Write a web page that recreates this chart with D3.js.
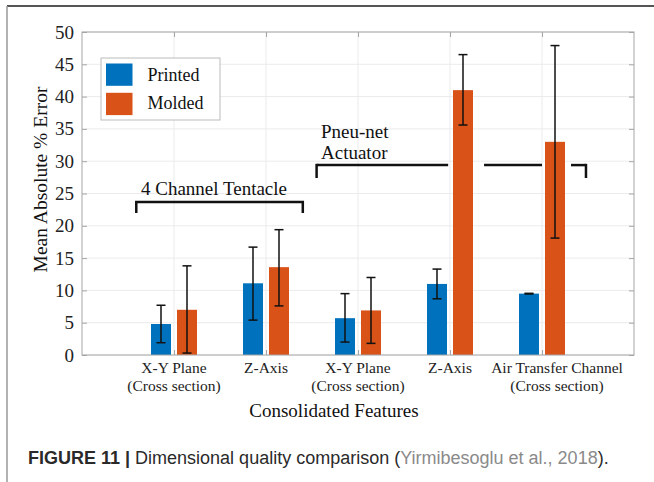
<!DOCTYPE html>
<html><head><meta charset="utf-8">
<script src="https://cdn.jsdelivr.net/npm/d3@7"></script>
<style>html,body{margin:0;padding:0;background:#fff;}svg{display:block;}</style>
</head><body>
<script>
// ---- data ----
const categories = [["X-Y Plane","(Cross section)"],["Z-Axis"],["X-Y Plane","(Cross section)"],["Z-Axis"],["Air Transfer Channel","(Cross section)"]];
const seriesNames = ["Printed","Molded"];
const printedMean = [4.8, 11.1, 5.7, 11.0, 9.5];
const printedLow  = [1.9, 5.4, 2.0, 8.7, 9.45];
const printedHigh = [7.7, 16.7, 9.5, 13.3, 9.55];
const moldedMean  = [7.0, 13.6, 6.9, 41.0, 33.0];
const moldedLow   = [0.3, 7.6, 1.8, 35.6, 18.1];
const moldedHigh  = [13.8, 19.4, 12.0, 46.5, 47.9];
const yTicks = [0,5,10,15,20,25,30,35,40,45,50];
const colors = ["#0072BD", "#D95319"];
// bracket annotations (x in category units, y in % error)
const bracket1 = {label:["4 Channel Tentacle"], x0:0.59, x1:2.4, y:23.7, yEnd:22.0};
const bracket2Segments = [[2.55,3.98],[4.37,5.0],[5.315,5.478]];
const bracket2 = {label:["Pneu-net","Actuator"], x0:2.55, x1:5.478, y:29.4, yEnd:27.4};

const W=654,H=482;
const svg=d3.select("body").append("svg").attr("width",W).attr("height",H);
const m={l:82,r:634,t:32,b:355};
const x=d3.scaleLinear().domain([0,6]).range([m.l,m.r]);
const y=d3.scaleLinear().domain([0,50]).range([m.b,m.t]);
const serif="'Liberation Serif','Times New Roman',serif";

// outer frame
svg.append("line").attr("x1",7).attr("x2",654).attr("y1",6).attr("y2",6).attr("stroke","#555").attr("stroke-width",2);
svg.append("line").attr("x1",7).attr("x2",7).attr("y1",6).attr("y2",482).attr("stroke","#999").attr("stroke-width",1.5);

// grid
const g=svg.append("g");
g.selectAll(".gy").data(yTicks).join("line").attr("x1",m.l).attr("x2",m.r).attr("y1",d=>y(d)).attr("y2",d=>y(d)).attr("stroke","#ebebeb").attr("stroke-width",1);
g.selectAll(".gx").data(d3.range(1,6)).join("line").attr("y1",m.t).attr("y2",m.b).attr("x1",d=>x(d)).attr("x2",d=>x(d)).attr("stroke","#ebebeb").attr("stroke-width",1);

// bars
const bw=20, off=13;
const data=[];
categories.forEach((c,i)=>{
  data.push({i,s:0,v:printedMean[i],lo:printedLow[i],hi:printedHigh[i]});
  data.push({i,s:1,v:moldedMean[i],lo:moldedLow[i],hi:moldedHigh[i]});
});
const cx=d=>x(d.i+1)+(d.s===0?-off:off);
svg.selectAll(".bar").data(data).join("rect")
  .attr("x",d=>cx(d)-bw/2).attr("width",bw)
  .attr("y",d=>y(d.v)).attr("height",d=>y(0)-y(d.v))
  .attr("fill",d=>colors[d.s]);

// axes box
const axisCol="#a6a6a6";
svg.append("rect").attr("x",m.l).attr("y",m.t).attr("width",m.r-m.l).attr("height",m.b-m.t).attr("fill","none").attr("stroke",axisCol).attr("stroke-width",1);
const yAxis=d3.axisLeft(y).tickValues(yTicks).tickSize(-5).tickPadding(8);
const ya=svg.append("g").attr("transform",`translate(${m.l},0)`).call(yAxis).attr("font-family",serif);
ya.select(".domain").remove();
ya.selectAll("line").attr("stroke",axisCol);
ya.selectAll("text").attr("font-family",serif).attr("font-size",19).attr("fill","#222");
const yAxisR=d3.axisRight(y).tickValues(yTicks).tickSize(-5).tickFormat("");
const yr=svg.append("g").attr("transform",`translate(${m.r},0)`).call(yAxisR);
yr.select(".domain").remove();yr.selectAll("line").attr("stroke",axisCol);
const xAxisT=d3.axisTop(x).tickValues(d3.range(1,6)).tickSize(-5).tickFormat("");
const xt=svg.append("g").attr("transform",`translate(0,${m.t})`).call(xAxisT);
xt.select(".domain").remove();xt.selectAll("line").attr("stroke",axisCol);
const xAxisB=d3.axisBottom(x).tickValues(d3.range(1,6)).tickSize(-5).tickFormat("");
const xb=svg.append("g").attr("transform",`translate(0,${m.b})`).call(xAxisB);
xb.select(".domain").remove();xb.selectAll("line").attr("stroke",axisCol);

// x category labels (last one sits a little right of its tick, as in the source)
categories.forEach((lines,i)=>{
  const px=x(i+1)+(i===categories.length-1?15:0);
  const t=svg.append("text").attr("x",px).attr("y",373).attr("text-anchor","middle").attr("font-family",serif).attr("font-size",15.5).attr("fill","#222");
  lines.forEach((l,j)=>t.append("tspan").attr("x",px).attr("dy",j===0?0:18).text(l));
});

// error bars
const eb=svg.append("g").attr("stroke","#111").attr("stroke-width",1.5);
data.forEach(d=>{
  const c=cx(d);
  eb.append("line").attr("x1",c).attr("x2",c).attr("y1",y(d.lo)).attr("y2",y(d.hi));
  eb.append("line").attr("x1",c-4.5).attr("x2",c+4.5).attr("y1",y(d.lo)).attr("y2",y(d.lo));
  eb.append("line").attr("x1",c-4.5).attr("x2",c+4.5).attr("y1",y(d.hi)).attr("y2",y(d.hi));
});

// axis titles
svg.append("text").attr("x",334).attr("y",417).attr("text-anchor","middle").attr("font-family",serif).attr("font-size",19).attr("fill","#111").text("Consolidated Features");
svg.append("text").attr("transform",`translate(47,${(m.t+m.b)/2-14}) rotate(-90)`).attr("text-anchor","middle").attr("font-family",serif).attr("font-size",19.5).attr("fill","#111").text("Mean Absolute % Error");

// brackets
const br=svg.append("g").attr("stroke","#111").attr("stroke-width",2.5).attr("fill","none");
br.append("path").attr("d",`M${x(bracket1.x0)},${y(bracket1.yEnd)}V${y(bracket1.y)}H${x(bracket1.x1)}V${y(bracket1.yEnd)}`);
svg.append("text").attr("x",214).attr("y",195).attr("text-anchor","middle").attr("font-family",serif).attr("font-size",19).attr("fill","#111").text(bracket1.label[0]);
br.append("line").attr("x1",x(bracket2.x0)).attr("x2",x(bracket2.x0)).attr("y1",y(bracket2.y)-1.25).attr("y2",y(bracket2.yEnd));
br.append("line").attr("x1",x(bracket2.x1)).attr("x2",x(bracket2.x1)).attr("y1",y(bracket2.y)-1.25).attr("y2",y(bracket2.yEnd));
bracket2Segments.forEach(s=>br.append("line").attr("x1",x(s[0])).attr("x2",x(s[1])).attr("y1",y(bracket2.y)).attr("y2",y(bracket2.y)));
bracket2.label.forEach((l,j)=>svg.append("text").attr("x",321).attr("y",138+j*21).attr("font-family",serif).attr("font-size",19).attr("fill","#111").text(l));

// legend
const lg=svg.append("g");
lg.append("rect").attr("x",101).attr("y",58).attr("width",119).attr("height",62).attr("fill","#fff").attr("stroke","#bbb").attr("stroke-width",1);
seriesNames.forEach((n,i)=>{
  lg.append("rect").attr("x",106).attr("y",63.5+i*29.3).attr("width",26.5).attr("height",22.3).attr("fill",colors[i]);
  lg.append("text").attr("x",147.5).attr("y",80.5+i*28.5).attr("font-family",serif).attr("font-size",18).attr("fill","#111").text(n);
});

// caption
const cap=svg.append("text").attr("x",28).attr("y",464).attr("font-family","'Liberation Sans',Arial,sans-serif").attr("font-size",18).attr("fill","#2a2a2a");
cap.append("tspan").attr("font-weight","bold").text("FIGURE 11 | ");
cap.append("tspan").text("Dimensional quality comparison (");
cap.append("tspan").attr("fill","#8a8a8a").text("Yirmibesoglu et al., 2018");
cap.append("tspan").text(").");
</script>
</body></html>
